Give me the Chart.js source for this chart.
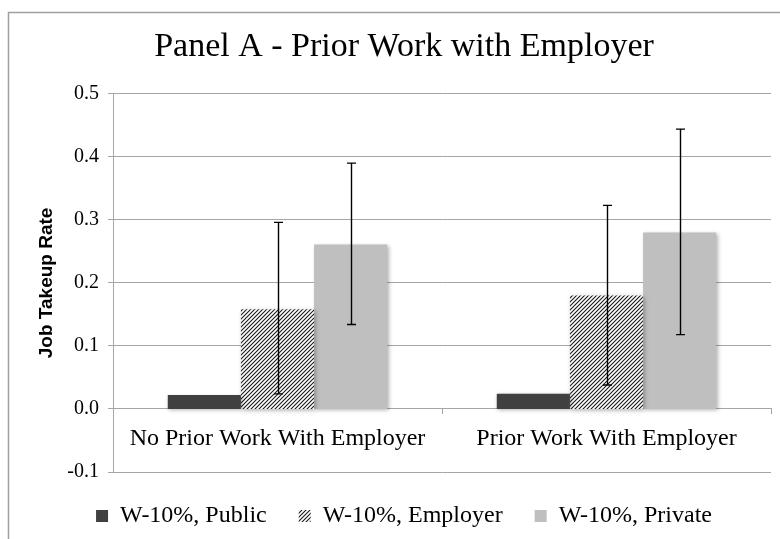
<!DOCTYPE html>
<html lang="en">
<head>
    <meta charset="UTF-8">
    <title>Panel A - Prior Work with Employer</title>
    <script src="https://cdn.jsdelivr.net/npm/chart.js"></script>
    <style>
        * {
            margin: 0;
            padding: 0;
        }
        body {
            background: #ffffff;
        }
        #chartContainer {
            width: 780px;
            height: 539px;
        }
    </style>
</head>
<body>
    <div id="chartContainer">
        <canvas id="takeupChart" width="780" height="539"></canvas>
    </div>

    <script>
        const categories = ['No Prior Work With Employer', 'Prior Work With Employer'];
        const seriesNames = ['W-10%, Public', 'W-10%, Employer', 'W-10%, Private'];

        const publicData = [0.022, 0.024];
        const employerData = [0.158, 0.180];
        const privateData = [0.261, 0.280];

        // confidence intervals (low / high)
        const employerLow = [0.024, 0.038];
        const employerHigh = [0.296, 0.323];
        const privateLow = [0.134, 0.118];
        const privateHigh = [0.390, 0.444];

        const serif = "'Liberation Serif', 'Times New Roman', serif";
        const gridGray = '#a6a6a6';

        // diagonal hatch for the employer series
        function makeHatch() {
            const c = document.createElement('canvas');
            c.width = 4;
            c.height = 4;
            const p = c.getContext('2d');
            p.fillStyle = '#ffffff';
            p.fillRect(0, 0, 4, 4);
            p.strokeStyle = '#1a1a1a';
            p.lineWidth = 1.1;
            p.beginPath();
            p.moveTo(0, 4); p.lineTo(4, 0);
            p.moveTo(-1, 1); p.lineTo(1, -1);
            p.moveTo(3, 5); p.lineTo(5, 3);
            p.stroke();
            return p.createPattern(c, 'repeat');
        }

        const ctx = document.getElementById('takeupChart').getContext('2d');
        const hatch = makeHatch();

        const errorBars = {
            id: 'errorBars',
            beforeDraw(chart) {
                const c = chart.ctx;
                c.save();
                c.strokeStyle = '#a0a0a0';
                c.lineWidth = 1.5;
                c.strokeRect(8.5, 12.5, 900, 700);
                c.restore();
            },
            beforeDatasetsDraw(chart) {
                const c = chart.ctx;
                c.save();
                c.shadowColor = 'rgba(0,0,0,0.3)';
                c.shadowBlur = 4;
                c.shadowOffsetX = 1.5;
                c.shadowOffsetY = 1.5;
            },
            afterDatasetsDraw(chart) {
                const c = chart.ctx;
                c.restore();
                const y = chart.scales.y;
                const ranges = { 1: [employerLow, employerHigh], 2: [privateLow, privateHigh] };
                c.save();
                c.strokeStyle = '#000000';
                c.lineWidth = 1.4;
                Object.keys(ranges).forEach(function (di) {
                    const meta = chart.getDatasetMeta(Number(di));
                    const lo = ranges[di][0], hi = ranges[di][1];
                    meta.data.forEach(function (bar, i) {
                        const x = Math.round(bar.x) + 0.5;
                        const y1 = y.getPixelForValue(lo[i]);
                        const y2 = y.getPixelForValue(hi[i]);
                        c.beginPath();
                        c.moveTo(x, y1); c.lineTo(x, y2);
                        c.moveTo(x - 4.5, y1); c.lineTo(x + 4.5, y1);
                        c.moveTo(x - 4.5, y2); c.lineTo(x + 4.5, y2);
                        c.stroke();
                    });
                });
                c.restore();
            }
        };

        const takeupChart = new Chart(ctx, {
            type: 'bar',
            data: {
                labels: categories,
                datasets: [
                    {
                        label: seriesNames[0],
                        data: publicData,
                        backgroundColor: '#404040',
                        borderWidth: 0
                    },
                    {
                        label: seriesNames[1],
                        data: employerData,
                        backgroundColor: hatch,
                        borderWidth: 0
                    },
                    {
                        label: seriesNames[2],
                        data: privateData,
                        backgroundColor: '#bfbfbf',
                        borderWidth: 0
                    }
                ]
            },
            options: {
                responsive: false,
                animation: false,
                categoryPercentage: 0.667,
                barPercentage: 1.0,
                layout: {
                    padding: { top: 0, left: 37, right: 9, bottom: 1 }
                },
                scales: {
                    x: {
                        position: { y: 0 },
                        grid: {
                            drawOnChartArea: false,
                            drawTicks: true,
                            tickLength: 5,
                            color: gridGray
                        },
                        border: { color: gridGray, width: 1 },
                        ticks: {
                            color: '#000000',
                            padding: 10,
                            maxRotation: 0,
                            font: { family: serif, size: 24 }
                        }
                    },
                    y: {
                        min: -0.1,
                        max: 0.5,
                        afterFit(scale) {
                            scale.width = 76;
                        },
                        grid: {
                            color: gridGray,
                            tickLength: 5
                        },
                        border: { color: gridGray, width: 1 },
                        ticks: {
                            stepSize: 0.1,
                            color: '#000000',
                            padding: 9,
                            font: { family: serif, size: 20 },
                            callback: function (v) {
                                if (Math.abs(v) < 1e-9) v = 0;
                                return v.toFixed(1);
                            }
                        },
                        title: {
                            display: true,
                            text: 'Job Takeup Rate',
                            color: '#000000',
                            padding: 0,
                            font: { family: "'Liberation Sans', Arial, sans-serif", size: 19, weight: 'bold', lineHeight: 1 }
                        }
                    }
                },
                plugins: {
                    title: {
                        display: true,
                        text: 'Panel A - Prior Work with Employer',
                        color: '#000000',
                        padding: { top: 27, bottom: 26 },
                        font: { family: serif, size: 34, weight: 'normal', lineHeight: 1.2 }
                    },
                    legend: {
                        position: 'bottom',
                        labels: {
                            boxWidth: 12,
                            boxHeight: 12,
                            padding: 32,
                            color: '#000000',
                            font: { family: serif, size: 24 }
                        }
                    },
                    tooltip: { enabled: false }
                }
            },
            plugins: [errorBars]
        });
    </script>
</body>
</html>
